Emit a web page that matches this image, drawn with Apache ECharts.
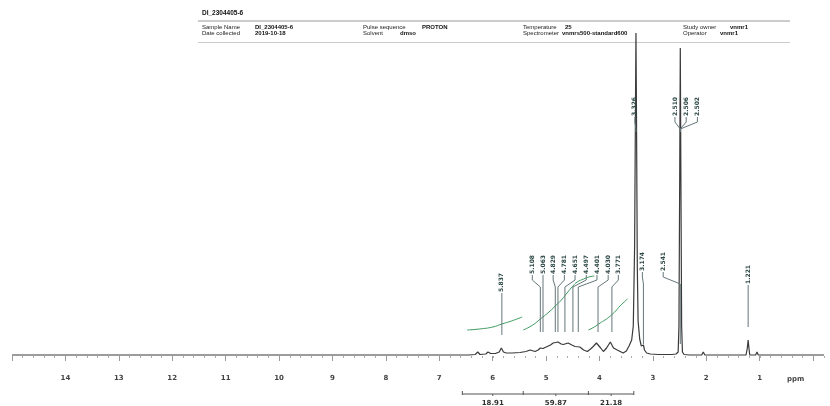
<!DOCTYPE html>
<html>
<head>
<meta charset="utf-8">
<script src="https://cdn.jsdelivr.net/npm/echarts@6/dist/echarts.min.js"></script>
<style>
html,body{margin:0;padding:0;background:#fff;}
#main{width:830px;height:406px;}
</style>
</head>
<body>
<div id="main"></div>
<script>
// 1H spectrum: shift (ppm) and height above baseline
const specPpm = [15.0, 6.45, 6.33, 6.28, 6.24, 6.13, 6.09, 6.04, 5.95, 5.88, 5.84, 5.80, 5.75, 5.64, 5.49, 5.38, 5.30, 5.21, 5.15, 5.11,
  5.06, 4.98, 4.92, 4.87, 4.78, 4.72, 4.68, 4.59, 4.52, 4.46, 4.37, 4.30, 4.23, 4.17, 4.12, 4.06, 4.03, 3.98, 3.93, 3.87,
  3.80, 3.74, 3.67, 3.56, 3.50, 3.45, 3.40, 3.37, 3.345, 3.33, 3.32, 3.31, 3.295, 3.28, 3.25, 3.22, 3.20, 3.18, 3.16, 3.12,
  3.05, 2.90, 2.65, 2.57, 2.53, 2.515, 2.50, 2.49, 2.48, 2.465, 2.45, 2.42, 2.31, 2.09, 2.06, 2.03, 1.80, 1.26, 1.235, 1.22,
  1.205, 1.19, 1.08, 1.055, 1.03, -0.2]
const specInt = [1, 1, 1.5, 4, 1.5, 2, 4, 2.5, 2.5, 4, 8, 4, 3, 3, 3.5, 4.5, 6, 4.5, 6, 8,
  7.5, 9.5, 11, 13, 14, 12, 11.5, 13, 11, 9.5, 9, 6, 4.5, 7, 9.5, 13, 14.5, 8, 4.5, 8,
  14, 8, 6, 3, 5, 10, 16, 30, 110, 240, 323, 240, 90, 35, 17, 10, 8, 11, 6, 3,
  2, 1.5, 1.5, 2, 4, 30, 190, 308, 190, 30, 4, 1.5, 1, 1, 4, 1, 1, 1, 8, 16,
  8, 1, 1, 4, 1, 1]

// integral curves (green)
const int1Ppm = [6.48, 6.25, 6.0, 5.83, 5.65, 5.45]
const int1Val = [26, 27, 29, 32, 35, 39]
const int2Ppm = [5.43, 5.25, 5.11, 4.97, 4.83, 4.70, 4.61, 4.50, 4.42, 4.30, 4.20, 4.10]
const int2Val = [26, 31, 37, 43, 50, 57, 63, 70, 74, 77, 79, 80]
const int3Ppm = [4.21, 4.10, 3.99, 3.90, 3.80, 3.70, 3.62, 3.54, 3.48]
const int3Val = [26, 29, 33, 36, 40, 45, 50, 54, 57]

// integral regions under the scale
const integralFrom = [6.57, 5.43, 4.21]
const integralTo = [5.43, 4.21, 3.36]
const integralText = ['18.91', '59.87', '21.18']

// peak picking labels
const smallLabelAt = [5.26, 5.06, 4.87, 4.66, 4.46, 4.25, 4.05, 3.84, 3.65]
const smallPeakAt = [5.11, 5.06, 4.83, 4.78, 4.65, 4.50, 4.40, 4.03, 3.77]
const smallPeakText = ['5.108', '5.063', '4.829', '4.781', '4.651', '4.497', '4.401', '4.030', '3.771']
const topLabelAt = [3.34, 2.59, 2.38, 2.17]
const topPeakAt = [3.32, 2.49, 2.49, 2.49]
const topPeakText = ['3.326', '2.510', '2.506', '2.502']
const midLabelAt = [3.20, 2.81]
const midPeakAt = [3.18, 2.49]
const midPeakText = ['3.174', '2.541']
const loneLabelAt = [5.83, 1.22]
const lonePeakAt = [5.83, 1.22]
const lonePeakText = ['5.837', '1.221']

// x scale
const tickLabels = [1, 2, 3, 4, 5, 6, 7, 8, 9, 10, 11, 12, 13, 14]

// header
const headerTitle = 'DI_2304405-6'
const headerRow1 = [['Sample Name', 'DI_2304405-6'], ['Pulse sequence', 'PROTON'], ['Temperature', '25'], ['Study owner', 'vnmr1']]
const headerRow2 = [['Date collected', '2019-10-18'], ['Solvent', 'dmso'], ['Spectrometer', 'vnmrs500-standard600'], ['Operator', 'vnmr1']]

const zip = (a, b) => a.map((v, i) => [v, b[i]])

// label rows: [labelPpm, peakPpm, textBottomLevel, lineEndLevel]
const labelData = []
const labelText = []
function addLabels(at, peak, txt, textLevel, endLevel){
  at.forEach((v, i) => {
    labelData.push([v, peak[i], textLevel, endLevel])
    labelText.push(txt[i])
  })
}
addLabels(smallLabelAt, smallPeakAt, smallPeakText, 81, 24)
addLabels(topLabelAt, topPeakAt, topPeakText, 239, 224)
addLabels(midLabelAt, midPeakAt, midPeakText, 84, 12)
addLabels([loneLabelAt[0]], [lonePeakAt[0]], [lonePeakText[0]], 63, 21)
addLabels([loneLabelAt[1]], [lonePeakAt[1]], [lonePeakText[1]], 71, 29)

const chart = echarts.init(document.getElementById('main'))

function renderPeakLabel(params, api){
  const lab = api.coord([api.value(0), api.value(2)])
  const end = api.coord([api.value(1), api.value(3)])
  const k1 = lab[1] + 5
  const k2 = lab[1] + 12
  const pts = api.value(0) === api.value(1)
    ? [[lab[0], lab[1]], [end[0], end[1]]]
    : [[lab[0], lab[1]], [lab[0], k1], [end[0], k2], [end[0], end[1]]]
  return {
    type: 'group',
    children: [
      {type: 'polyline', shape: {points: pts}, style: {stroke: '#66777a', lineWidth: 1, fill: null}},
      {type: 'text', x: lab[0], y: lab[1] - 1, rotation: Math.PI / 2,
        style: {text: labelText[params.dataIndex], fill: '#2c4844', font: 'bold 6px "DejaVu Sans"',
          align: 'left', verticalAlign: 'middle'}}
    ]
  }
}

function renderIntegral(params, api){
  const a = api.coord([api.value(0), -38])
  const b = api.coord([api.value(1), -38])
  const mid = (a[0] + b[0]) / 2
  const last = params.dataIndex === integralFrom.length - 1
  const children = [
    {type: 'line', shape: {x1: a[0], y1: a[1], x2: b[0], y2: b[1]}, style: {stroke: '#555', lineWidth: 1}},
    {type: 'line', shape: {x1: a[0], y1: a[1] - 3, x2: a[0], y2: a[1] + 1}, style: {stroke: '#555', lineWidth: 1}},
    {type: 'line', shape: {x1: mid, y1: a[1], x2: mid, y2: a[1] + 2}, style: {stroke: '#555', lineWidth: 1}},
    {type: 'text', x: mid, y: a[1] + 9,
      style: {text: integralText[params.dataIndex], fill: '#333', font: 'bold 7px "DejaVu Sans"',
        align: 'center', verticalAlign: 'middle'}}
  ]
  if(last){
    children.push({type: 'line', shape: {x1: b[0], y1: b[1] - 3, x2: b[0], y2: b[1] + 1}, style: {stroke: '#555', lineWidth: 1}})
  }
  return {type: 'group', children: children}
}

const headerGraphic = [
  {type: 'text', left: 202, top: 10, style: {text: headerTitle, font: 'bold 6.5px "Liberation Sans"', fill: '#111'}},
  {type: 'line', shape: {x1: 198, y1: 21, x2: 790, y2: 21}, style: {stroke: '#999', lineWidth: 1}},
  {type: 'line', shape: {x1: 198, y1: 42.5, x2: 790, y2: 42.5}, style: {stroke: '#ccc', lineWidth: 1}}
]
// where each header column and its value start
const colX = [202, 363, 523, 683]
const valX = [[255, 422, 565, 730], [255, 400, 562, 720]]
;[headerRow1, headerRow2].forEach((row, r) => {
  row.forEach((pair, c) => {
    headerGraphic.push({type: 'text', left: colX[c], top: 24 + r * 6,
      style: {text: pair[0], font: '6px "Liberation Sans"', fill: '#222'}})
    headerGraphic.push({type: 'text', left: valX[r][c], top: 24 + r * 6,
      style: {text: pair[1], font: 'bold 6px "Liberation Sans"', fill: '#111'}})
  })
})
headerGraphic.push({type: 'text', left: 787, top: 376, style: {text: 'ppm', font: 'bold 7px "DejaVu Sans"', fill: '#444'}})

const option = {
  animation: false,
  backgroundColor: '#fff',
  graphic: headerGraphic,
  grid: [
    {left: 12, right: 6, top: 33, bottom: 44},
    {left: 12, right: 16.9, top: 33, bottom: 44}
  ],
  xAxis: [
    {type: 'value', gridIndex: 0, inverse: true, min: -0.2, max: 15, interval: 0.2,
      axisLine: {show: false}, splitLine: {show: false}, axisLabel: {show: false},
      axisTick: {show: true, length: 2, lineStyle: {color: '#aaa'}}},
    {type: 'value', gridIndex: 1, inverse: true, min: 0, max: 15, interval: 1,
      axisLine: {show: false}, splitLine: {show: false},
      axisTick: {show: true, length: 5, lineStyle: {color: '#999'}},
      axisLabel: {margin: 13, fontSize: 7, fontWeight: 'bold', color: '#444', fontFamily: 'DejaVu Sans',
        formatter: v => tickLabels.indexOf(v) >= 0 ? String(v) : ''}}
  ],
  yAxis: [
    {type: 'value', gridIndex: 0, min: -6, max: 323, show: false},
    {type: 'value', gridIndex: 1, min: -6, max: 323, show: false}
  ],
  series: [
    {type: 'line', xAxisIndex: 0, yAxisIndex: 0, data: zip(specPpm, specInt), showSymbol: false,
      lineStyle: {color: '#3a3a3a', width: 1.2}, clip: false, z: 3},
    {type: 'line', data: zip(int1Ppm, int1Val), showSymbol: false, smooth: true,
      lineStyle: {color: '#3e9a60', width: 1}},
    {type: 'line', data: zip(int2Ppm, int2Val), showSymbol: false, smooth: true,
      lineStyle: {color: '#3e9a60', width: 1}},
    {type: 'line', data: zip(int3Ppm, int3Val), showSymbol: false, smooth: true,
      lineStyle: {color: '#3e9a60', width: 1}},
    {type: 'custom', data: labelData, renderItem: renderPeakLabel, clip: false, z: 4},
    {type: 'custom', data: zip(integralFrom, integralTo), renderItem: renderIntegral, clip: false}
  ]
}
chart.setOption(option)
</script>
</body>
</html>
